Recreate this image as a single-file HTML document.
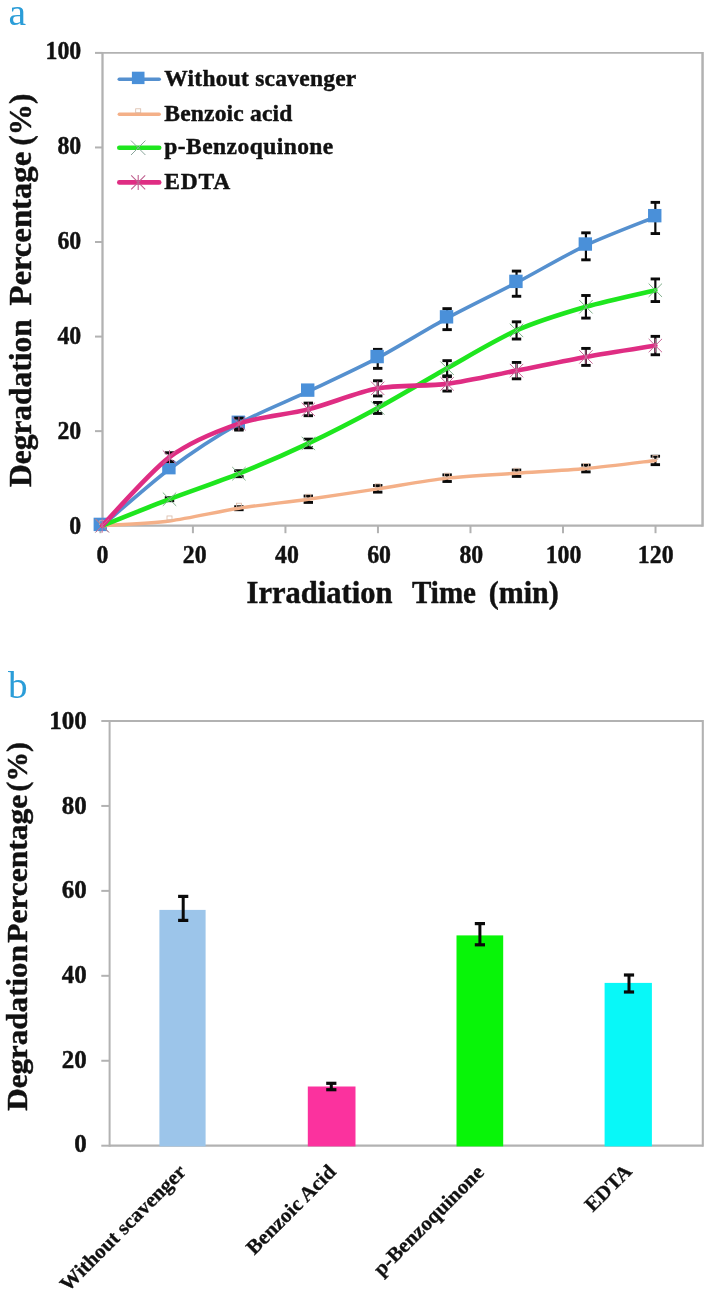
<!DOCTYPE html>
<html><head><meta charset="utf-8"><title>Figure</title>
<style>html,body{margin:0;padding:0;background:#fff;}svg{display:block;filter:blur(0.55px);}</style>
</head><body>
<svg width="710" height="1296" viewBox="0 0 710 1296">
<rect x="0" y="0" width="710" height="1296" fill="#ffffff"/>
<text x="8.6" y="25" font-family="Liberation Serif, serif" font-size="38" fill="#2b9dd8" textLength="17.6" lengthAdjust="spacingAndGlyphs">a</text>
<text x="7.9" y="697.7" font-family="Liberation Serif, serif" font-size="38.5" fill="#2b9dd8" textLength="19.6" lengthAdjust="spacingAndGlyphs">b</text>
<g id="panelA">
<line x1="102.50" y1="51.95" x2="102.50" y2="526.85" stroke="#b2b2b2" stroke-width="2.3"/>
<line x1="702.55" y1="51.95" x2="702.55" y2="526.85" stroke="#b2b2b2" stroke-width="2.5"/>
<line x1="102.50" y1="52.90" x2="702.55" y2="52.90" stroke="#b2b2b2" stroke-width="1.9"/>
<line x1="102.50" y1="525.70" x2="702.55" y2="525.70" stroke="#b2b2b2" stroke-width="2.3"/>
<line x1="95" y1="525.70" x2="102.50" y2="525.70" stroke="#b2b2b2" stroke-width="2"/>
<text x="69.30" y="534.25" font-family="Liberation Serif, serif" font-weight="bold" stroke="#111" stroke-width="0.45" stroke-linejoin="round" font-size="25.5" fill="#111" textLength="11.9" lengthAdjust="spacingAndGlyphs">0</text>
<line x1="95" y1="431.14" x2="102.50" y2="431.14" stroke="#b2b2b2" stroke-width="2"/>
<text x="57.40" y="439.25" font-family="Liberation Serif, serif" font-weight="bold" stroke="#111" stroke-width="0.45" stroke-linejoin="round" font-size="25.5" fill="#111" textLength="23.8" lengthAdjust="spacingAndGlyphs">20</text>
<line x1="95" y1="336.58" x2="102.50" y2="336.58" stroke="#b2b2b2" stroke-width="2"/>
<text x="57.40" y="344.25" font-family="Liberation Serif, serif" font-weight="bold" stroke="#111" stroke-width="0.45" stroke-linejoin="round" font-size="25.5" fill="#111" textLength="23.8" lengthAdjust="spacingAndGlyphs">40</text>
<line x1="95" y1="242.02" x2="102.50" y2="242.02" stroke="#b2b2b2" stroke-width="2"/>
<text x="57.40" y="249.25" font-family="Liberation Serif, serif" font-weight="bold" stroke="#111" stroke-width="0.45" stroke-linejoin="round" font-size="25.5" fill="#111" textLength="23.8" lengthAdjust="spacingAndGlyphs">60</text>
<line x1="95" y1="147.46" x2="102.50" y2="147.46" stroke="#b2b2b2" stroke-width="2"/>
<text x="57.40" y="154.25" font-family="Liberation Serif, serif" font-weight="bold" stroke="#111" stroke-width="0.45" stroke-linejoin="round" font-size="25.5" fill="#111" textLength="23.8" lengthAdjust="spacingAndGlyphs">80</text>
<line x1="95" y1="52.90" x2="102.50" y2="52.90" stroke="#b2b2b2" stroke-width="2"/>
<text x="45.50" y="59.25" font-family="Liberation Serif, serif" font-weight="bold" stroke="#111" stroke-width="0.45" stroke-linejoin="round" font-size="25.5" fill="#111" textLength="35.7" lengthAdjust="spacingAndGlyphs">100</text>
<line x1="100.40" y1="525.70" x2="100.40" y2="533.2" stroke="#b2b2b2" stroke-width="2"/>
<text x="96.55" y="562.6" font-family="Liberation Serif, serif" font-weight="bold" stroke="#111" stroke-width="0.45" stroke-linejoin="round" font-size="25.5" fill="#111" textLength="11.9" lengthAdjust="spacingAndGlyphs">0</text>
<line x1="192.92" y1="525.70" x2="192.92" y2="533.2" stroke="#b2b2b2" stroke-width="2"/>
<text x="182.80" y="562.6" font-family="Liberation Serif, serif" font-weight="bold" stroke="#111" stroke-width="0.45" stroke-linejoin="round" font-size="25.5" fill="#111" textLength="23.8" lengthAdjust="spacingAndGlyphs">20</text>
<line x1="285.44" y1="525.70" x2="285.44" y2="533.2" stroke="#b2b2b2" stroke-width="2"/>
<text x="275.00" y="562.6" font-family="Liberation Serif, serif" font-weight="bold" stroke="#111" stroke-width="0.45" stroke-linejoin="round" font-size="25.5" fill="#111" textLength="23.8" lengthAdjust="spacingAndGlyphs">40</text>
<line x1="377.96" y1="525.70" x2="377.96" y2="533.2" stroke="#b2b2b2" stroke-width="2"/>
<text x="367.20" y="562.6" font-family="Liberation Serif, serif" font-weight="bold" stroke="#111" stroke-width="0.45" stroke-linejoin="round" font-size="25.5" fill="#111" textLength="23.8" lengthAdjust="spacingAndGlyphs">60</text>
<line x1="470.48" y1="525.70" x2="470.48" y2="533.2" stroke="#b2b2b2" stroke-width="2"/>
<text x="459.40" y="562.6" font-family="Liberation Serif, serif" font-weight="bold" stroke="#111" stroke-width="0.45" stroke-linejoin="round" font-size="25.5" fill="#111" textLength="23.8" lengthAdjust="spacingAndGlyphs">80</text>
<line x1="563.00" y1="525.70" x2="563.00" y2="533.2" stroke="#b2b2b2" stroke-width="2"/>
<text x="545.65" y="562.6" font-family="Liberation Serif, serif" font-weight="bold" stroke="#111" stroke-width="0.45" stroke-linejoin="round" font-size="25.5" fill="#111" textLength="35.7" lengthAdjust="spacingAndGlyphs">100</text>
<line x1="655.52" y1="525.70" x2="655.52" y2="533.2" stroke="#b2b2b2" stroke-width="2"/>
<text x="637.85" y="562.6" font-family="Liberation Serif, serif" font-weight="bold" stroke="#111" stroke-width="0.45" stroke-linejoin="round" font-size="25.5" fill="#111" textLength="35.7" lengthAdjust="spacingAndGlyphs">120</text>


<line x1="238.91" y1="419.08" x2="238.91" y2="430.08" stroke="#0a0a0a" stroke-width="2.2"/><line x1="234.21" y1="419.08" x2="243.61" y2="419.08" stroke="#0a0a0a" stroke-width="2.9"/><line x1="234.21" y1="430.08" x2="243.61" y2="430.08" stroke="#0a0a0a" stroke-width="2.9"/>

<line x1="377.72" y1="349.36" x2="377.72" y2="368.36" stroke="#0a0a0a" stroke-width="2.2"/><line x1="373.02" y1="349.36" x2="382.42" y2="349.36" stroke="#0a0a0a" stroke-width="2.9"/><line x1="373.02" y1="368.36" x2="382.42" y2="368.36" stroke="#0a0a0a" stroke-width="2.9"/>
<line x1="447.12" y1="308.64" x2="447.12" y2="329.64" stroke="#0a0a0a" stroke-width="2.2"/><line x1="442.43" y1="308.64" x2="451.82" y2="308.64" stroke="#0a0a0a" stroke-width="2.9"/><line x1="442.43" y1="329.64" x2="451.82" y2="329.64" stroke="#0a0a0a" stroke-width="2.9"/>
<line x1="516.53" y1="271.08" x2="516.53" y2="296.28" stroke="#0a0a0a" stroke-width="2.2"/><line x1="511.83" y1="271.08" x2="521.23" y2="271.08" stroke="#0a0a0a" stroke-width="2.9"/><line x1="511.83" y1="296.28" x2="521.23" y2="296.28" stroke="#0a0a0a" stroke-width="2.9"/>
<line x1="585.93" y1="232.83" x2="585.93" y2="259.83" stroke="#0a0a0a" stroke-width="2.2"/><line x1="581.23" y1="232.83" x2="590.63" y2="232.83" stroke="#0a0a0a" stroke-width="2.9"/><line x1="581.23" y1="259.83" x2="590.63" y2="259.83" stroke="#0a0a0a" stroke-width="2.9"/>
<line x1="655.34" y1="202.36" x2="655.34" y2="233.56" stroke="#0a0a0a" stroke-width="2.2"/><line x1="650.64" y1="202.36" x2="660.04" y2="202.36" stroke="#0a0a0a" stroke-width="2.9"/><line x1="650.64" y1="233.56" x2="660.04" y2="233.56" stroke="#0a0a0a" stroke-width="2.9"/>
<path d="M102.20,525.70 C111.62,517.76 150.37,483.26 169.50,468.96 C188.64,454.67 219.48,434.43 238.91,423.58 C258.34,412.72 288.88,400.63 308.31,391.42 C327.75,382.22 358.29,368.12 377.72,357.86 C397.15,347.60 427.69,328.67 447.12,318.14 C466.56,307.62 497.10,292.87 516.53,282.68 C535.96,272.49 566.50,254.53 585.93,245.33 C605.37,236.13 645.62,220.93 655.34,216.96" fill="none" stroke="#5590cf" stroke-width="3.6" stroke-linecap="round" stroke-linejoin="round"/>
<rect x="93.60" y="517.70" width="13.4" height="13.4" fill="#4a90d9"/>
<rect x="162.20" y="460.96" width="13.4" height="13.4" fill="#4a90d9"/>
<rect x="231.61" y="415.58" width="13.4" height="13.4" fill="#4a90d9"/>
<rect x="301.01" y="383.42" width="13.4" height="13.4" fill="#4a90d9"/>
<rect x="370.42" y="349.86" width="13.4" height="13.4" fill="#4a90d9"/>
<rect x="439.82" y="310.14" width="13.4" height="13.4" fill="#4a90d9"/>
<rect x="509.23" y="274.68" width="13.4" height="13.4" fill="#4a90d9"/>
<rect x="578.63" y="237.33" width="13.4" height="13.4" fill="#4a90d9"/>
<rect x="648.04" y="208.96" width="13.4" height="13.4" fill="#4a90d9"/>


<line x1="238.91" y1="506.71" x2="238.91" y2="509.71" stroke="#0a0a0a" stroke-width="2.2"/><line x1="234.21" y1="506.71" x2="243.61" y2="506.71" stroke="#0a0a0a" stroke-width="2.9"/><line x1="234.21" y1="509.71" x2="243.61" y2="509.71" stroke="#0a0a0a" stroke-width="2.9"/>
<line x1="308.31" y1="496.02" x2="308.31" y2="502.42" stroke="#0a0a0a" stroke-width="2.2"/><line x1="303.62" y1="496.02" x2="313.01" y2="496.02" stroke="#0a0a0a" stroke-width="2.9"/><line x1="303.62" y1="502.42" x2="313.01" y2="502.42" stroke="#0a0a0a" stroke-width="2.9"/>
<line x1="377.72" y1="485.52" x2="377.72" y2="492.12" stroke="#0a0a0a" stroke-width="2.2"/><line x1="373.02" y1="485.52" x2="382.42" y2="485.52" stroke="#0a0a0a" stroke-width="2.9"/><line x1="373.02" y1="492.12" x2="382.42" y2="492.12" stroke="#0a0a0a" stroke-width="2.9"/>
<line x1="447.12" y1="474.88" x2="447.12" y2="481.48" stroke="#0a0a0a" stroke-width="2.2"/><line x1="442.43" y1="474.88" x2="451.82" y2="474.88" stroke="#0a0a0a" stroke-width="2.9"/><line x1="442.43" y1="481.48" x2="451.82" y2="481.48" stroke="#0a0a0a" stroke-width="2.9"/>
<line x1="516.53" y1="470.02" x2="516.53" y2="476.42" stroke="#0a0a0a" stroke-width="2.2"/><line x1="511.83" y1="470.02" x2="521.23" y2="470.02" stroke="#0a0a0a" stroke-width="2.9"/><line x1="511.83" y1="476.42" x2="521.23" y2="476.42" stroke="#0a0a0a" stroke-width="2.9"/>
<line x1="585.93" y1="465.09" x2="585.93" y2="471.89" stroke="#0a0a0a" stroke-width="2.2"/><line x1="581.23" y1="465.09" x2="590.63" y2="465.09" stroke="#0a0a0a" stroke-width="2.9"/><line x1="581.23" y1="471.89" x2="590.63" y2="471.89" stroke="#0a0a0a" stroke-width="2.9"/>
<line x1="655.34" y1="456.25" x2="655.34" y2="464.65" stroke="#0a0a0a" stroke-width="2.2"/><line x1="650.64" y1="456.25" x2="660.04" y2="456.25" stroke="#0a0a0a" stroke-width="2.9"/><line x1="650.64" y1="464.65" x2="660.04" y2="464.65" stroke="#0a0a0a" stroke-width="2.9"/>
<path d="M102.20,525.70 C111.62,525.04 150.37,523.42 169.50,520.97 C188.64,518.52 219.48,511.25 238.91,508.21 C258.34,505.16 288.88,501.94 308.31,499.22 C327.75,496.51 358.29,491.77 377.72,488.82 C397.15,485.88 427.69,480.37 447.12,478.18 C466.56,476.00 497.10,474.58 516.53,473.22 C535.96,471.86 566.50,470.28 585.93,468.49 C605.37,466.70 645.62,461.58 655.34,460.45" fill="none" stroke="#f4b088" stroke-width="3.4" stroke-linecap="round" stroke-linejoin="round"/>
<rect x="99.70" y="520.70" width="5" height="4" fill="none" stroke="#d9b9a6" stroke-width="0.8"/>
<rect x="167.00" y="515.97" width="5" height="4" fill="none" stroke="#d9b9a6" stroke-width="0.8"/>
<rect x="236.41" y="503.21" width="5" height="4" fill="none" stroke="#d9b9a6" stroke-width="0.8"/>
<rect x="305.81" y="494.22" width="5" height="4" fill="none" stroke="#d9b9a6" stroke-width="0.8"/>
<rect x="375.22" y="483.82" width="5" height="4" fill="none" stroke="#d9b9a6" stroke-width="0.8"/>
<rect x="444.62" y="473.18" width="5" height="4" fill="none" stroke="#d9b9a6" stroke-width="0.8"/>
<rect x="514.03" y="468.22" width="5" height="4" fill="none" stroke="#d9b9a6" stroke-width="0.8"/>
<rect x="583.43" y="463.49" width="5" height="4" fill="none" stroke="#d9b9a6" stroke-width="0.8"/>
<rect x="652.84" y="455.45" width="5" height="4" fill="none" stroke="#d9b9a6" stroke-width="0.8"/>

<line x1="169.50" y1="497.72" x2="169.50" y2="500.72" stroke="#0a0a0a" stroke-width="2.2"/><line x1="164.81" y1="497.72" x2="174.20" y2="497.72" stroke="#0a0a0a" stroke-width="2.9"/><line x1="164.81" y1="500.72" x2="174.20" y2="500.72" stroke="#0a0a0a" stroke-width="2.9"/>
<line x1="238.91" y1="470.69" x2="238.91" y2="476.69" stroke="#0a0a0a" stroke-width="2.2"/><line x1="234.21" y1="470.69" x2="243.61" y2="470.69" stroke="#0a0a0a" stroke-width="2.9"/><line x1="234.21" y1="476.69" x2="243.61" y2="476.69" stroke="#0a0a0a" stroke-width="2.9"/>
<line x1="308.31" y1="439.13" x2="308.31" y2="447.73" stroke="#0a0a0a" stroke-width="2.2"/><line x1="303.62" y1="439.13" x2="313.01" y2="439.13" stroke="#0a0a0a" stroke-width="2.9"/><line x1="303.62" y1="447.73" x2="313.01" y2="447.73" stroke="#0a0a0a" stroke-width="2.9"/>
<line x1="377.72" y1="402.47" x2="377.72" y2="413.47" stroke="#0a0a0a" stroke-width="2.2"/><line x1="373.02" y1="402.47" x2="382.42" y2="402.47" stroke="#0a0a0a" stroke-width="2.9"/><line x1="373.02" y1="413.47" x2="382.42" y2="413.47" stroke="#0a0a0a" stroke-width="2.9"/>
<line x1="447.12" y1="360.66" x2="447.12" y2="375.86" stroke="#0a0a0a" stroke-width="2.2"/><line x1="442.43" y1="360.66" x2="451.82" y2="360.66" stroke="#0a0a0a" stroke-width="2.9"/><line x1="442.43" y1="375.86" x2="451.82" y2="375.86" stroke="#0a0a0a" stroke-width="2.9"/>
<line x1="516.53" y1="321.83" x2="516.53" y2="339.03" stroke="#0a0a0a" stroke-width="2.2"/><line x1="511.83" y1="321.83" x2="521.23" y2="321.83" stroke="#0a0a0a" stroke-width="2.9"/><line x1="511.83" y1="339.03" x2="521.23" y2="339.03" stroke="#0a0a0a" stroke-width="2.9"/>
<line x1="585.93" y1="295.49" x2="585.93" y2="318.09" stroke="#0a0a0a" stroke-width="2.2"/><line x1="581.23" y1="295.49" x2="590.63" y2="295.49" stroke="#0a0a0a" stroke-width="2.9"/><line x1="581.23" y1="318.09" x2="590.63" y2="318.09" stroke="#0a0a0a" stroke-width="2.9"/>
<line x1="655.34" y1="278.95" x2="655.34" y2="301.55" stroke="#0a0a0a" stroke-width="2.2"/><line x1="650.64" y1="278.95" x2="660.04" y2="278.95" stroke="#0a0a0a" stroke-width="2.9"/><line x1="650.64" y1="301.55" x2="660.04" y2="301.55" stroke="#0a0a0a" stroke-width="2.9"/>
<path d="M102.20,525.70 C111.62,521.99 150.37,506.50 169.50,499.22 C188.64,491.94 219.48,481.50 238.91,473.69 C258.34,465.88 288.88,452.63 308.31,443.43 C327.75,434.23 358.29,418.50 377.72,407.97 C397.15,397.45 427.69,379.11 447.12,368.26 C466.56,357.40 497.10,339.04 516.53,330.43 C535.96,321.83 566.50,312.42 585.93,306.79 C605.37,301.17 645.62,292.56 655.34,290.25" fill="none" stroke="#1ee61e" stroke-width="4.6" stroke-linecap="round" stroke-linejoin="round"/>
<path d="M95.50,519.00 l13.4,13.4 M95.50,532.40 l13.4,-13.4" stroke="#7fae8a" stroke-width="1" fill="none"/>
<path d="M162.81,492.52 l13.4,13.4 M162.81,505.92 l13.4,-13.4" stroke="#7fae8a" stroke-width="1" fill="none"/>
<path d="M232.21,466.99 l13.4,13.4 M232.21,480.39 l13.4,-13.4" stroke="#7fae8a" stroke-width="1" fill="none"/>
<path d="M301.62,436.73 l13.4,13.4 M301.62,450.13 l13.4,-13.4" stroke="#7fae8a" stroke-width="1" fill="none"/>
<path d="M371.02,401.27 l13.4,13.4 M371.02,414.67 l13.4,-13.4" stroke="#7fae8a" stroke-width="1" fill="none"/>
<path d="M440.43,361.56 l13.4,13.4 M440.43,374.96 l13.4,-13.4" stroke="#7fae8a" stroke-width="1" fill="none"/>
<path d="M509.83,323.73 l13.4,13.4 M509.83,337.13 l13.4,-13.4" stroke="#7fae8a" stroke-width="1" fill="none"/>
<path d="M579.23,300.09 l13.4,13.4 M579.23,313.49 l13.4,-13.4" stroke="#7fae8a" stroke-width="1" fill="none"/>
<path d="M648.64,283.55 l13.4,13.4 M648.64,296.95 l13.4,-13.4" stroke="#7fae8a" stroke-width="1" fill="none"/>

<line x1="169.50" y1="452.74" x2="169.50" y2="461.54" stroke="#0a0a0a" stroke-width="2.2"/><line x1="164.81" y1="452.74" x2="174.20" y2="452.74" stroke="#0a0a0a" stroke-width="2.9"/><line x1="164.81" y1="461.54" x2="174.20" y2="461.54" stroke="#0a0a0a" stroke-width="2.9"/>
<line x1="238.91" y1="418.08" x2="238.91" y2="429.08" stroke="#0a0a0a" stroke-width="2.2"/><line x1="234.21" y1="418.08" x2="243.61" y2="418.08" stroke="#0a0a0a" stroke-width="2.9"/><line x1="234.21" y1="429.08" x2="243.61" y2="429.08" stroke="#0a0a0a" stroke-width="2.9"/>
<line x1="308.31" y1="403.09" x2="308.31" y2="415.69" stroke="#0a0a0a" stroke-width="2.2"/><line x1="303.62" y1="403.09" x2="313.01" y2="403.09" stroke="#0a0a0a" stroke-width="2.9"/><line x1="303.62" y1="415.69" x2="313.01" y2="415.69" stroke="#0a0a0a" stroke-width="2.9"/>
<line x1="377.72" y1="380.75" x2="377.72" y2="395.95" stroke="#0a0a0a" stroke-width="2.2"/><line x1="373.02" y1="380.75" x2="382.42" y2="380.75" stroke="#0a0a0a" stroke-width="2.9"/><line x1="373.02" y1="395.95" x2="382.42" y2="395.95" stroke="#0a0a0a" stroke-width="2.9"/>
<line x1="447.12" y1="376.66" x2="447.12" y2="391.06" stroke="#0a0a0a" stroke-width="2.2"/><line x1="442.43" y1="376.66" x2="451.82" y2="376.66" stroke="#0a0a0a" stroke-width="2.9"/><line x1="442.43" y1="391.06" x2="451.82" y2="391.06" stroke="#0a0a0a" stroke-width="2.9"/>
<line x1="516.53" y1="362.42" x2="516.53" y2="378.82" stroke="#0a0a0a" stroke-width="2.2"/><line x1="511.83" y1="362.42" x2="521.23" y2="362.42" stroke="#0a0a0a" stroke-width="2.9"/><line x1="511.83" y1="378.82" x2="521.23" y2="378.82" stroke="#0a0a0a" stroke-width="2.9"/>
<line x1="585.93" y1="348.41" x2="585.93" y2="365.41" stroke="#0a0a0a" stroke-width="2.2"/><line x1="581.23" y1="348.41" x2="590.63" y2="348.41" stroke="#0a0a0a" stroke-width="2.9"/><line x1="581.23" y1="365.41" x2="590.63" y2="365.41" stroke="#0a0a0a" stroke-width="2.9"/>
<line x1="655.34" y1="336.36" x2="655.34" y2="354.76" stroke="#0a0a0a" stroke-width="2.2"/><line x1="650.64" y1="336.36" x2="660.04" y2="336.36" stroke="#0a0a0a" stroke-width="2.9"/><line x1="650.64" y1="354.76" x2="660.04" y2="354.76" stroke="#0a0a0a" stroke-width="2.9"/>
<path d="M102.20,525.70 C111.62,516.10 150.37,471.44 169.50,457.14 C188.64,442.85 219.48,430.26 238.91,423.58 C258.34,416.89 288.88,414.32 308.31,409.39 C327.75,404.46 358.29,391.93 377.72,388.35 C397.15,384.78 427.69,386.34 447.12,383.86 C466.56,381.38 497.10,374.39 516.53,370.62 C535.96,366.85 566.50,360.42 585.93,356.91 C605.37,353.40 645.62,347.15 655.34,345.56" fill="none" stroke="#df2d83" stroke-width="4.6" stroke-linecap="round" stroke-linejoin="round"/>
<path d="M95.50,519.00 l13.4,13.4 M95.50,532.40 l13.4,-13.4 M102.20,518.70 v14" stroke="#c96a9a" stroke-width="1" fill="none"/>
<path d="M162.81,450.44 l13.4,13.4 M162.81,463.84 l13.4,-13.4 M169.50,450.14 v14" stroke="#c96a9a" stroke-width="1" fill="none"/>
<path d="M232.21,416.88 l13.4,13.4 M232.21,430.28 l13.4,-13.4 M238.91,416.58 v14" stroke="#c96a9a" stroke-width="1" fill="none"/>
<path d="M301.62,402.69 l13.4,13.4 M301.62,416.09 l13.4,-13.4 M308.31,402.39 v14" stroke="#c96a9a" stroke-width="1" fill="none"/>
<path d="M371.02,381.65 l13.4,13.4 M371.02,395.05 l13.4,-13.4 M377.72,381.35 v14" stroke="#c96a9a" stroke-width="1" fill="none"/>
<path d="M440.43,377.16 l13.4,13.4 M440.43,390.56 l13.4,-13.4 M447.12,376.86 v14" stroke="#c96a9a" stroke-width="1" fill="none"/>
<path d="M509.83,363.92 l13.4,13.4 M509.83,377.32 l13.4,-13.4 M516.53,363.62 v14" stroke="#c96a9a" stroke-width="1" fill="none"/>
<path d="M579.23,350.21 l13.4,13.4 M579.23,363.61 l13.4,-13.4 M585.93,349.91 v14" stroke="#c96a9a" stroke-width="1" fill="none"/>
<path d="M648.64,338.86 l13.4,13.4 M648.64,352.26 l13.4,-13.4 M655.34,338.56 v14" stroke="#c96a9a" stroke-width="1" fill="none"/>
<line x1="119.3" y1="79.30" x2="159.2" y2="79.30" stroke="#5590cf" stroke-width="3.6" stroke-linecap="round"/>
<rect x="131.90" y="71.70" width="12.6" height="12.4" fill="#4a90d9"/>
<text x="164.3" y="86.00" font-family="Liberation Serif, serif" font-weight="bold" stroke="#111" stroke-width="0.45" stroke-linejoin="round" font-size="23.5" fill="#111" textLength="192.0" lengthAdjust="spacing">Without scavenger</text>
<line x1="119.3" y1="114.30" x2="159.2" y2="114.30" stroke="#f4b088" stroke-width="3.4" stroke-linecap="round"/>
<rect x="135.70" y="108.80" width="5" height="4" fill="none" stroke="#d9b9a6" stroke-width="0.8"/>
<text x="164.3" y="120.80" font-family="Liberation Serif, serif" font-weight="bold" stroke="#111" stroke-width="0.45" stroke-linejoin="round" font-size="23.5" fill="#111" textLength="128.0" lengthAdjust="spacing">Benzoic acid</text>
<line x1="119.3" y1="147.80" x2="159.2" y2="147.80" stroke="#1ee61e" stroke-width="4.6" stroke-linecap="round"/>
<path d="M131.00,140.60 l14.4,14.4 M131.00,155.00 l14.4,-14.4" stroke="#8aa59a" stroke-width="1" fill="none"/>
<text x="164.3" y="154.40" font-family="Liberation Serif, serif" font-weight="bold" stroke="#111" stroke-width="0.45" stroke-linejoin="round" font-size="23.5" fill="#111" textLength="169.0" lengthAdjust="spacing">p-Benzoquinone</text>
<line x1="119.3" y1="182.40" x2="159.2" y2="182.40" stroke="#df2d83" stroke-width="4.6" stroke-linecap="round"/>
<path d="M131.20,175.40 l14,14 M131.20,189.40 l14,-14 M138.20,174.90 v15" stroke="#c0608f" stroke-width="1.1" fill="none"/>
<text x="164.3" y="189.00" font-family="Liberation Serif, serif" font-weight="bold" stroke="#111" stroke-width="0.45" stroke-linejoin="round" font-size="23.5" fill="#111" textLength="66.0" lengthAdjust="spacing">EDTA</text>
<text x="246.5" y="602.6" font-family="Liberation Serif, serif" font-weight="bold" stroke="#111" stroke-width="0.45" stroke-linejoin="round" font-size="31" fill="#111" textLength="146" lengthAdjust="spacingAndGlyphs">Irradiation</text>
<text x="412" y="602.6" font-family="Liberation Serif, serif" font-weight="bold" stroke="#111" stroke-width="0.45" stroke-linejoin="round" font-size="31" fill="#111" textLength="64" lengthAdjust="spacingAndGlyphs">Time</text>
<text x="488.7" y="602.6" font-family="Liberation Serif, serif" font-weight="bold" stroke="#111" stroke-width="0.45" stroke-linejoin="round" font-size="31" fill="#111" textLength="70" lengthAdjust="spacingAndGlyphs">(min)</text>
<g transform="translate(31.2,0) rotate(-90)">
<text x="-486.90" y="0" font-family="Liberation Serif, serif" font-weight="bold" stroke="#111" stroke-width="0.45" stroke-linejoin="round" font-size="32.5" fill="#111" textLength="167.5" lengthAdjust="spacingAndGlyphs">Degradation</text>
<text x="-305.60" y="0" font-family="Liberation Serif, serif" font-weight="bold" stroke="#111" stroke-width="0.45" stroke-linejoin="round" font-size="32.5" fill="#111" textLength="153.8" lengthAdjust="spacingAndGlyphs">Percentage</text>
<text x="-145.70" y="0" font-family="Liberation Serif, serif" font-weight="bold" stroke="#111" stroke-width="0.45" stroke-linejoin="round" font-size="32.5" fill="#111" textLength="52.1" lengthAdjust="spacingAndGlyphs">(%)</text>
</g>
</g>
<g id="panelB">
<line x1="109.60" y1="720.00" x2="109.60" y2="1146.80" stroke="#b2b2b2" stroke-width="2.0"/>
<line x1="702.80" y1="720.00" x2="702.80" y2="1146.80" stroke="#b2b2b2" stroke-width="2.1"/>
<line x1="109.60" y1="721.00" x2="702.80" y2="721.00" stroke="#b2b2b2" stroke-width="2.0"/>
<line x1="109.60" y1="1145.70" x2="702.80" y2="1145.70" stroke="#b2b2b2" stroke-width="2.2"/>
<rect x="159.40" y="909.90" width="46.20" height="236.50" fill="#9cc5ea"/>
<rect x="307.80" y="1086.50" width="47.70" height="59.90" fill="#fb329e"/>
<rect x="456.50" y="935.40" width="46.70" height="211.00" fill="#08f508"/>
<rect x="604.60" y="982.90" width="47.30" height="163.50" fill="#08f8f8"/>
<line x1="183.20" y1="896.40" x2="183.20" y2="920.40" stroke="#0a0a0a" stroke-width="3.0"/><line x1="178.10" y1="896.40" x2="188.30" y2="896.40" stroke="#0a0a0a" stroke-width="3.2"/><line x1="178.10" y1="920.40" x2="188.30" y2="920.40" stroke="#0a0a0a" stroke-width="3.2"/>
<line x1="331.30" y1="1083.30" x2="331.30" y2="1089.70" stroke="#0a0a0a" stroke-width="3.0"/><line x1="326.20" y1="1083.30" x2="336.40" y2="1083.30" stroke="#0a0a0a" stroke-width="3.2"/><line x1="326.20" y1="1089.70" x2="336.40" y2="1089.70" stroke="#0a0a0a" stroke-width="3.2"/>
<line x1="479.90" y1="923.60" x2="479.90" y2="944.80" stroke="#0a0a0a" stroke-width="3.0"/><line x1="474.80" y1="923.60" x2="485.00" y2="923.60" stroke="#0a0a0a" stroke-width="3.2"/><line x1="474.80" y1="944.80" x2="485.00" y2="944.80" stroke="#0a0a0a" stroke-width="3.2"/>
<line x1="629.00" y1="975.00" x2="629.00" y2="992.00" stroke="#0a0a0a" stroke-width="3.0"/><line x1="623.90" y1="975.00" x2="634.10" y2="975.00" stroke="#0a0a0a" stroke-width="3.2"/><line x1="623.90" y1="992.00" x2="634.10" y2="992.00" stroke="#0a0a0a" stroke-width="3.2"/>
<line x1="101.3" y1="1145.70" x2="109.60" y2="1145.70" stroke="#b2b2b2" stroke-width="2"/>
<text x="74.30" y="1152.40" font-family="Liberation Serif, serif" font-weight="bold" stroke="#111" stroke-width="0.45" stroke-linejoin="round" font-size="26" fill="#111" textLength="12.5" lengthAdjust="spacingAndGlyphs">0</text>
<line x1="101.3" y1="1060.76" x2="109.60" y2="1060.76" stroke="#b2b2b2" stroke-width="2"/>
<text x="61.80" y="1067.74" font-family="Liberation Serif, serif" font-weight="bold" stroke="#111" stroke-width="0.45" stroke-linejoin="round" font-size="26" fill="#111" textLength="25.0" lengthAdjust="spacingAndGlyphs">20</text>
<line x1="101.3" y1="975.82" x2="109.60" y2="975.82" stroke="#b2b2b2" stroke-width="2"/>
<text x="61.80" y="983.08" font-family="Liberation Serif, serif" font-weight="bold" stroke="#111" stroke-width="0.45" stroke-linejoin="round" font-size="26" fill="#111" textLength="25.0" lengthAdjust="spacingAndGlyphs">40</text>
<line x1="101.3" y1="890.88" x2="109.60" y2="890.88" stroke="#b2b2b2" stroke-width="2"/>
<text x="61.80" y="898.42" font-family="Liberation Serif, serif" font-weight="bold" stroke="#111" stroke-width="0.45" stroke-linejoin="round" font-size="26" fill="#111" textLength="25.0" lengthAdjust="spacingAndGlyphs">60</text>
<line x1="101.3" y1="805.94" x2="109.60" y2="805.94" stroke="#b2b2b2" stroke-width="2"/>
<text x="61.80" y="813.76" font-family="Liberation Serif, serif" font-weight="bold" stroke="#111" stroke-width="0.45" stroke-linejoin="round" font-size="26" fill="#111" textLength="25.0" lengthAdjust="spacingAndGlyphs">80</text>
<line x1="101.3" y1="721.00" x2="109.60" y2="721.00" stroke="#b2b2b2" stroke-width="2"/>
<text x="49.30" y="729.10" font-family="Liberation Serif, serif" font-weight="bold" stroke="#111" stroke-width="0.45" stroke-linejoin="round" font-size="26" fill="#111" textLength="37.5" lengthAdjust="spacingAndGlyphs">100</text>
<text transform="translate(187.20,1173.00) rotate(-45)" x="-168.50" y="0" font-family="Liberation Serif, serif" font-weight="bold" stroke="#111" stroke-width="0.3" stroke-linejoin="round" font-size="20.5" fill="#111" textLength="168.5" lengthAdjust="spacingAndGlyphs">Without scavenger</text>
<text transform="translate(337.00,1173.00) rotate(-45)" x="-117.00" y="0" font-family="Liberation Serif, serif" font-weight="bold" stroke="#111" stroke-width="0.3" stroke-linejoin="round" font-size="20.5" fill="#111" textLength="117.0" lengthAdjust="spacingAndGlyphs">Benzoic Acid</text>
<text transform="translate(485.00,1173.50) rotate(-45)" x="-146.50" y="0" font-family="Liberation Serif, serif" font-weight="bold" stroke="#111" stroke-width="0.3" stroke-linejoin="round" font-size="20.5" fill="#111" textLength="146.5" lengthAdjust="spacingAndGlyphs">p-Benzoquinone</text>
<text transform="translate(633.00,1172.50) rotate(-45)" x="-57.00" y="0" font-family="Liberation Serif, serif" font-weight="bold" stroke="#111" stroke-width="0.3" stroke-linejoin="round" font-size="20.5" fill="#111" textLength="57.0" lengthAdjust="spacingAndGlyphs">EDTA</text>
<g transform="translate(27.0,0) rotate(-90)">
<text x="-1110.70" y="0" font-family="Liberation Serif, serif" font-weight="bold" stroke="#111" stroke-width="0.45" stroke-linejoin="round" font-size="29.5" fill="#111" textLength="165.6" lengthAdjust="spacingAndGlyphs">Degradation</text>
<text x="-942.80" y="0" font-family="Liberation Serif, serif" font-weight="bold" stroke="#111" stroke-width="0.45" stroke-linejoin="round" font-size="29.5" fill="#111" textLength="148.0" lengthAdjust="spacingAndGlyphs">Percentage</text>
<text x="-791.40" y="0" font-family="Liberation Serif, serif" font-weight="bold" stroke="#111" stroke-width="0.45" stroke-linejoin="round" font-size="29.5" fill="#111" textLength="49.2" lengthAdjust="spacingAndGlyphs">(%)</text>
</g>
</g>
</svg>
</body></html>
